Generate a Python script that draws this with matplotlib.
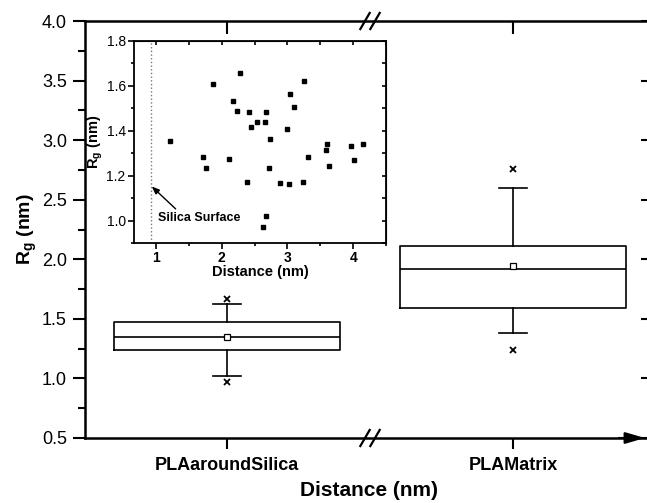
import matplotlib
matplotlib.use("Agg")
import matplotlib.pyplot as plt
from matplotlib.ticker import MultipleLocator

plt.rcParams['font.family'] = ['Liberation Sans', 'DejaVu Sans']
plt.rcParams['mathtext.fontset'] = 'custom'
plt.rcParams['mathtext.rm'] = 'Liberation Sans'
plt.rcParams['mathtext.bf'] = 'Liberation Sans:bold'
plt.rcParams['mathtext.it'] = 'Liberation Sans:italic'

# ---------------- data ----------------
categories = ["PLAaroundSilica", "PLAMatrix"]
box_q1 = [1.240, 1.592]
box_median = [1.349, 1.919]
box_q3 = [1.475, 2.112]
whisker_low = [1.022, 1.383]
whisker_high = [1.626, 2.599]
box_mean = [1.350, 1.945]
outliers = [[0.971, 1.668], [1.240, 2.758]]

inset_distance = [1.213, 1.722, 1.763, 1.864, 2.108, 2.169, 2.240, 2.276,
                  2.383, 2.413, 2.444, 2.530, 2.652, 2.678, 2.627, 2.673,
                  2.734, 2.713, 2.881, 2.993, 3.023, 3.044, 3.100, 3.247,
                  3.242, 3.308, 3.583, 3.603, 3.633, 3.974, 4.010, 4.150]
inset_rg = [1.353, 1.282, 1.236, 1.608, 1.276, 1.534, 1.488, 1.658,
            1.174, 1.484, 1.415, 1.441, 1.438, 1.484, 0.972, 1.019,
            1.365, 1.236, 1.168, 1.410, 1.161, 1.566, 1.506, 1.621,
            1.171, 1.285, 1.316, 1.340, 1.241, 1.334, 1.272, 1.341]
silica_surface = 0.925
axis_break = 1.5

# ---------------- figure ----------------
W, H = 647, 503
fig = plt.figure(figsize=(W / 100, H / 100), dpi=100)
ax = fig.add_axes([85 / W, 65 / H, (W - 85) / W, (438 - 21) / H])

positions = list(range(1, len(categories) + 1))
stats = []
for i in range(len(categories)):
    stats.append(dict(med=box_median[i], q1=box_q1[i], q3=box_q3[i],
                      whislo=whisker_low[i], whishi=whisker_high[i],
                      mean=box_mean[i], fliers=outliers[i], label=categories[i]))

lw_box = 1.2
ax.bxp(stats, positions=positions, widths=0.79, capwidths=0.1,
       showmeans=True, showfliers=True, patch_artist=False,
       boxprops=dict(color='k', lw=lw_box),
       medianprops=dict(color='k', lw=lw_box),
       whiskerprops=dict(color='k', lw=lw_box),
       capprops=dict(color='k', lw=lw_box),
       meanprops=dict(marker='s', markersize=4, markerfacecolor='white',
                      markeredgecolor='k', markeredgewidth=0.9),
       flierprops=dict(marker='x', markersize=4.5, markeredgecolor='k',
                       markeredgewidth=1.3))

ax.set_xlim(0.5035, 2.4685)
ax.set_ylim(0.5, 4.0)
ax.set_xticks(positions)
ax.set_xticklabels(categories, fontsize=13, fontweight='bold')
ax.yaxis.set_major_locator(MultipleLocator(0.5))
ax.yaxis.set_minor_locator(MultipleLocator(0.25))
ax.yaxis.set_major_formatter(matplotlib.ticker.FormatStrFormatter('%.1f'))
ax.tick_params(axis='y', which='major', direction='out', length=9, width=1.5,
               labelsize=13, pad=4, right=False)
ax.tick_params(axis='y', which='minor', direction='out', length=5, width=1.5, right=False)
ax.tick_params(axis='x', which='major', direction='out', length=8, width=1.5,
               pad=6, top=False)
for s in ['left', 'top', 'bottom']:
    ax.spines[s].set_linewidth(1.8)
ax.spines['right'].set_visible(False)

sx = ax.secondary_xaxis('top')
sx.set_xticks(positions)
sx.tick_params(direction='in', length=9, width=1.5, labeltop=False)
sx.spines['top'].set_visible(False)

sy = ax.secondary_yaxis('right')
sy.yaxis.set_major_locator(MultipleLocator(0.5))
sy.tick_params(direction='in', length=4, width=1.5, labelright=False)
sy.spines['right'].set_visible(False)

ax.set_xlabel('Distance (nm)', fontsize=15, fontweight='bold')
ax.xaxis.set_label_coords(0.505, -0.102)
ax.set_ylabel(r'$\mathbf{R_g}$ (nm)', fontsize=14, fontweight='bold')
ax.yaxis.set_label_coords(-0.082, 0.5)

# arrow head at the end of x axis
ax.annotate('', xy=(0.9964, 0), xytext=(0.95, 0), xycoords='axes fraction',
            arrowprops=dict(arrowstyle='-|>,head_length=1.2,head_width=0.35',
                            color='k', lw=1.5, shrinkA=0, shrinkB=0),
            annotation_clip=False)

# axis break marks
trans = ax.get_xaxis_transform()
dx = 5 / 286.0
for yb in (0.0, 1.0):
    for off in (-dx, dx):
        ax.plot([axis_break + off - dx * 1.05, axis_break + off + dx * 1.05],
                [yb - 0.0216, yb + 0.0216], color='k', lw=1.6,
                transform=trans, clip_on=False, solid_capstyle='butt')

# ---------------- inset ----------------
axi = fig.add_axes([134 / W, (H - 243) / H, (386 - 134) / W, (243 - 41) / H])
axi.plot(inset_distance, inset_rg, 's', color='k', markersize=3.2)
axi.axvline(silica_surface, color='#777777', ls=':', lw=1.0)
axi.set_xlim(0.665, 4.5)
axi.set_ylim(0.9, 1.8)
axi.xaxis.set_major_locator(MultipleLocator(1))
axi.xaxis.set_minor_locator(MultipleLocator(0.5))
axi.yaxis.set_major_locator(MultipleLocator(0.2))
axi.yaxis.set_minor_locator(MultipleLocator(0.1))
axi.yaxis.set_major_formatter(matplotlib.ticker.FormatStrFormatter('%.1f'))
axi.tick_params(which='major', direction='out', length=4, width=1.2,
                labelsize=10, pad=2, top=False, right=False)
axi.tick_params(which='minor', direction='out', length=2.5, width=1.2,
                top=False, right=False)
for lab in axi.get_xticklabels():
    lab.set_fontweight('bold')
for s in axi.spines.values():
    s.set_linewidth(1.3)

six = axi.secondary_xaxis('top')
six.xaxis.set_major_locator(MultipleLocator(1))
six.xaxis.set_minor_locator(MultipleLocator(0.5))
six.tick_params(which='both', direction='in', length=3, width=1.2, labeltop=False)
siy = axi.secondary_yaxis('right')
siy.yaxis.set_major_locator(MultipleLocator(0.2))
siy.yaxis.set_minor_locator(MultipleLocator(0.1))
siy.tick_params(which='both', direction='in', length=3, width=1.2, labelright=False)

axi.set_xlabel('Distance (nm)', fontsize=10.5, fontweight='bold', labelpad=0)
axi.set_ylabel(r'$\mathbf{R_g}$ (nm)', fontsize=10.5, fontweight='bold', labelpad=1)

axi.annotate('Silica Surface', xy=(silica_surface + 0.01, 1.152),
             xytext=(1.03, 1.013), textcoords='data',
             fontsize=9, fontweight='bold', va='center', ha='left',
             arrowprops=dict(arrowstyle='-|>,head_length=0.5,head_width=0.2',
                             color='k', lw=1.0, shrinkA=0, shrinkB=0,
                             relpos=(0.25, 1.0)))

fig.savefig('out.png', dpi=100)
